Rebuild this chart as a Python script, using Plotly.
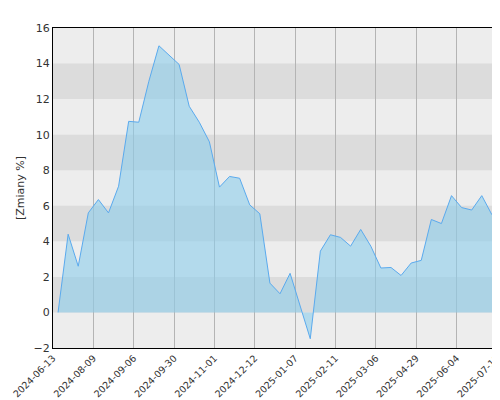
import plotly.graph_objects as go

values = [0, 4.4, 2.6, 5.6, 6.35, 5.6, 7.1, 10.75, 10.7, 13.0, 15.0, 14.45, 13.95, 11.6, 10.7,
          9.6, 7.05, 7.65, 7.55, 6.05, 5.55, 1.65, 1.05, 2.2, 0.35, -1.48, 3.45, 4.37, 4.22,
          3.73, 4.67, 3.73, 2.5, 2.53, 2.08, 2.78, 2.93, 5.23, 5.0, 6.57, 5.9, 5.76, 6.57, 5.5, 5.0]
tick_labels = ["2024-06-13", "2024-08-09", "2024-09-06", "2024-09-30", "2024-11-01", "2024-12-12",
               "2025-01-07", "2025-02-11", "2025-03-06", "2025-04-29", "2025-06-04", "2025-07-11"]
bands = [(0, 2), (4, 6), (8, 10), (12, 14)]

x = list(range(len(values)))
tickvals = [-0.5 + 4 * k for k in range(len(tick_labels))]

fig = go.Figure()
fig.add_trace(go.Scatter(x=x, y=values, mode="lines", fill="tozeroy",
                         line=dict(color="#5aaaee", width=1),
                         fillcolor="rgba(140,205,235,0.6)", hoverinfo="skip"))
for a, b in bands:
    fig.add_shape(type="rect", xref="paper", x0=0, x1=1, yref="y", y0=a, y1=b,
                  fillcolor="#dcdcdc", line_width=0, layer="below")
fig.update_layout(
    width=500, height=400, margin=dict(l=45, r=1, t=20, b=60),
    paper_bgcolor="white", plot_bgcolor="#ededed", showlegend=False,
    font=dict(family="DejaVu Sans", size=11, color="#333"),
)
fig.update_xaxes(range=[-0.5, 44.5], tickvals=tickvals, ticktext=tick_labels, tickangle=-45,
                 showgrid=True, gridcolor="#b4b4b4", gridwidth=1, zeroline=False,
                 showline=True, linecolor="black", mirror=True, tickfont=dict(size=9.5),
                 ticks="", automargin=False, layer="below traces")
fig.update_yaxes(range=[-2, 16], dtick=2, showgrid=False, zeroline=False,
                 showline=True, linecolor="black", mirror=True, automargin=False,
                 title=dict(text="[Zmiany %]", standoff=6, font=dict(size=11)),
                 tickfont=dict(size=11))
fig.write_html("out.html")
